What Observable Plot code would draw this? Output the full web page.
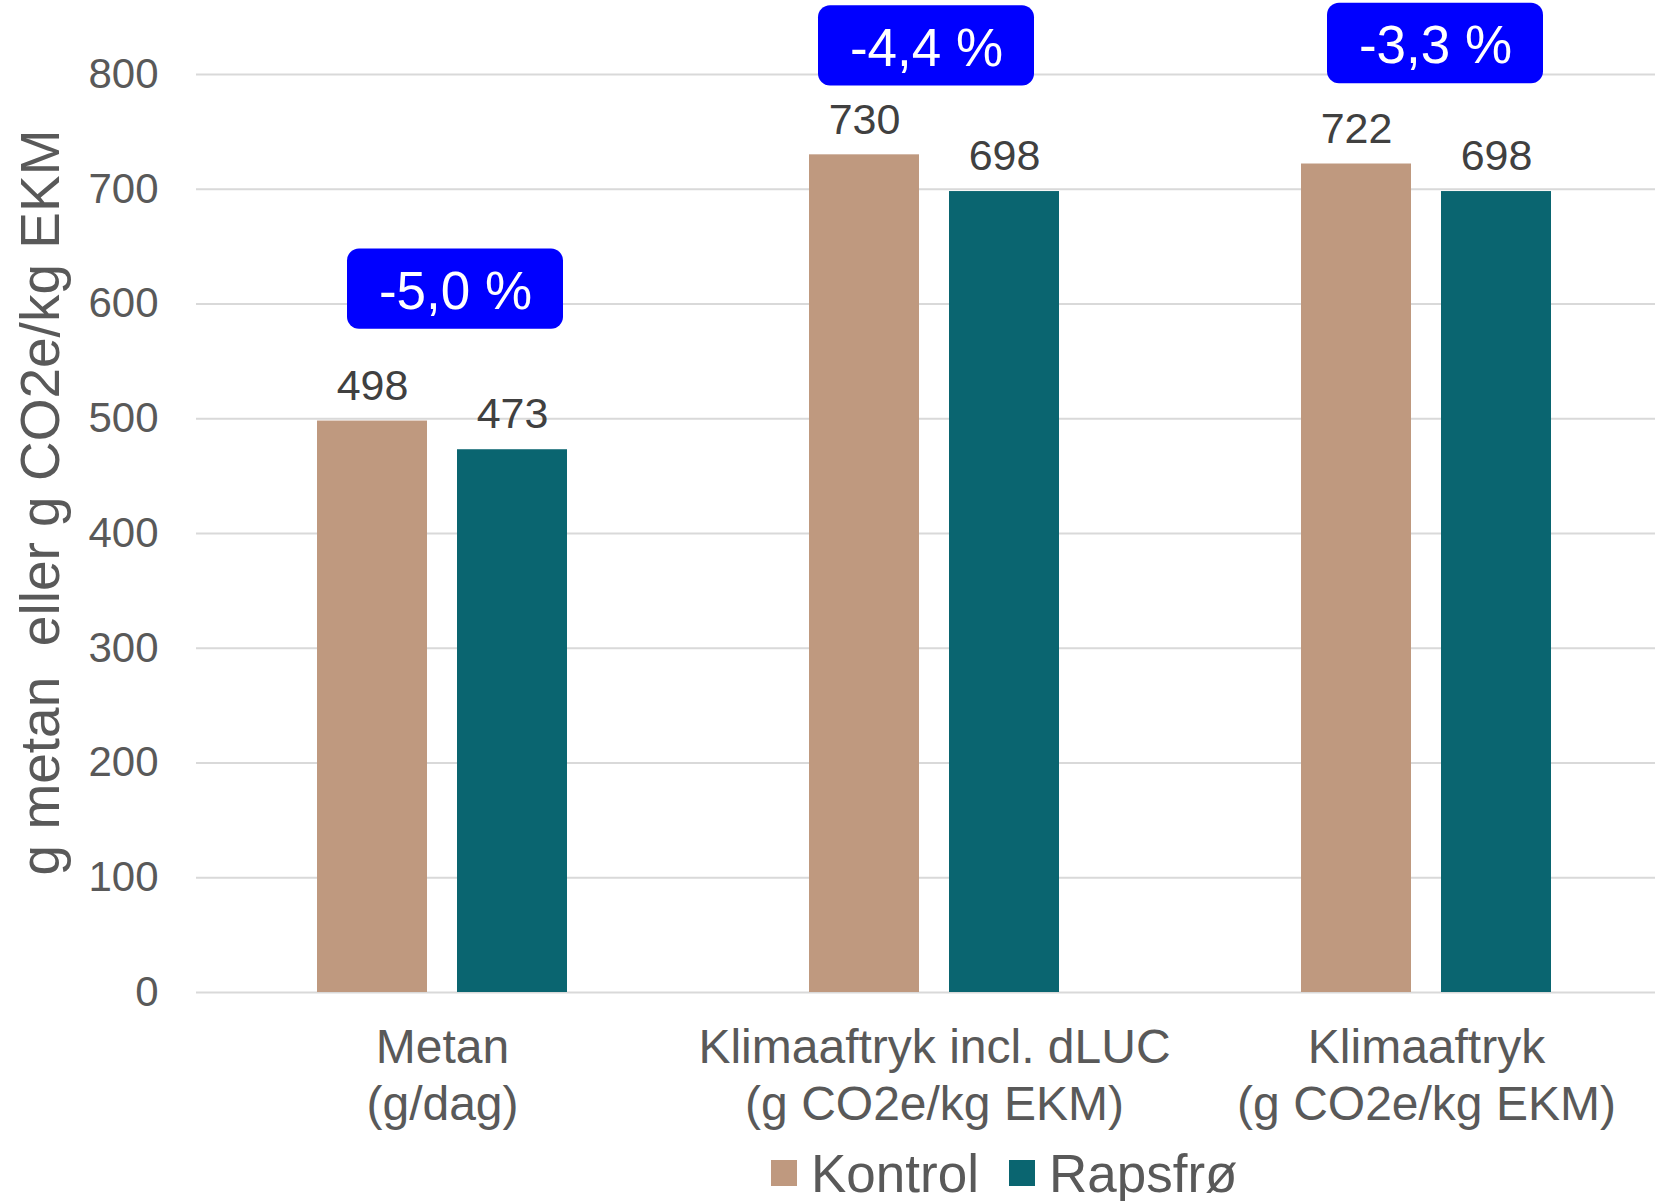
<!DOCTYPE html>
<html><head><meta charset="utf-8">
<script src="https://cdn.jsdelivr.net/npm/d3@7"></script>
<script src="https://cdn.jsdelivr.net/npm/@observablehq/plot@0.6"></script>
<style>
html,body{margin:0;padding:0;background:#fff;overflow:hidden;}
#legend{display:flex;align-items:center;height:56px;padding-left:771px;font-family:"Liberation Sans",Arial,sans-serif;font-size:53px;color:#595959;line-height:1;}
#legend .sw{width:26px;height:26px;margin-right:14px;flex:none;}
#legend .lab{margin-right:30px;}
</style></head><body><div id="chart"></div><div id="legend"></div>
<script>
const categories = ["Metan", "Klimaaftryk incl. dLUC", "Klimaaftryk"];
const categoryUnits = ["(g/dag)", "(g CO2e/kg EKM)", "(g CO2e/kg EKM)"];
const series = ["Kontrol", "Rapsfrø"];
const kontrolValues = [498, 730, 722];
const rapsfroValues = [473, 698, 698];
const changeLabels = ["-5,0 %", "-4,4 %", "-3,3 %"];
const changeLevels = [613, 825, 827];
const yTicks = [0, 100, 200, 300, 400, 500, 600, 700, 800];
const seriesColors = ["#BF997F", "#0A6570"];
const yTitle = "g metan\u00a0 eller g CO2e/kg EKM";

const kontrol = categories.map((c, i) => ({cat: c, value: kontrolValues[i]}));
const rapsfro = categories.map((c, i) => ({cat: c, value: rapsfroValues[i]}));
const badges = categories.map((c, i) => ({cat: c, label: changeLabels[i], level: changeLevels[i]}));
const unitOf = new Map(categories.map((c, i) => [c, categoryUnits[i]]));

const W = 1655, H = 1145;
const bandW = 492, barW = 110, gap = 30, badgeW = 216;
const innerIn = bandW / 2 - gap / 2 - barW;
const outerIn = bandW / 2 + gap / 2;
const labelShift = gap / 2 + barW / 2;
const badgeNudge = [13, -8, 9]; // horizontal styling offsets of the callouts

const badgeMarks = badges.flatMap((b, i) => [
  Plot.barY([b], {x: "cat", y1: d => d.level - 35, y2: d => d.level + 35, fill: "#0000FF", rx: 12,
    insetLeft: (bandW - badgeW) / 2, insetRight: (bandW - badgeW) / 2, dx: badgeNudge[i]}),
  Plot.text([b], {x: "cat", y: "level", text: "label", fill: "#fff", fontSize: 53, dy: 3, dx: badgeNudge[i]})
]);

const chart = Plot.plot({
  width: W,
  height: H,
  marginLeft: 196,
  marginRight: 0,
  marginTop: 74,
  marginBottom: 153,
  style: {fontFamily: "'Liberation Sans', Arial, sans-serif", background: "#fff", overflow: "visible"},
  x: {domain: categories, range: [196, 196 + 3 * bandW], padding: 0, axis: null},
  y: {domain: [0, 800], axis: null},
  marks: [
    Plot.gridY(yTicks, {stroke: "#d9d9d9", strokeOpacity: 1, strokeWidth: 2}),
    Plot.axisY(yTicks, {tickSize: 0, tickPadding: 38, fontSize: 42, fill: "#595959", label: null}),
    Plot.axisX({tickSize: 0, tickPadding: 30, fontSize: 48, lineHeight: 1.19, fill: "#595959", label: null,
      tickFormat: d => d + "\n" + unitOf.get(d)}),
    Plot.text([yTitle], {frameAnchor: "left", textAnchor: "middle", rotate: -90, dx: -155, dy: -31, fontSize: 55, fill: "#595959"}),
    Plot.barY(kontrol, {x: "cat", y: "value", fill: seriesColors[0], insetLeft: innerIn, insetRight: outerIn}),
    Plot.barY(rapsfro, {x: "cat", y: "value", fill: seriesColors[1], insetLeft: outerIn, insetRight: innerIn}),
    Plot.text(kontrol, {x: "cat", y: "value", text: d => String(d.value), dx: -labelShift, dy: -35, fontSize: 43, fill: "#404040"}),
    Plot.text(rapsfro, {x: "cat", y: "value", text: d => String(d.value), dx: labelShift, dy: -35, fontSize: 43, fill: "#404040"}),
    ...badgeMarks
  ]
});
document.getElementById("chart").appendChild(chart);

const legend = document.getElementById("legend");
series.forEach((s, i) => {
  const sw = document.createElement("span");
  sw.className = "sw";
  sw.style.background = seriesColors[i];
  const lab = document.createElement("span");
  lab.className = "lab";
  lab.textContent = s;
  legend.appendChild(sw);
  legend.appendChild(lab);
});
</script>
</body></html>
